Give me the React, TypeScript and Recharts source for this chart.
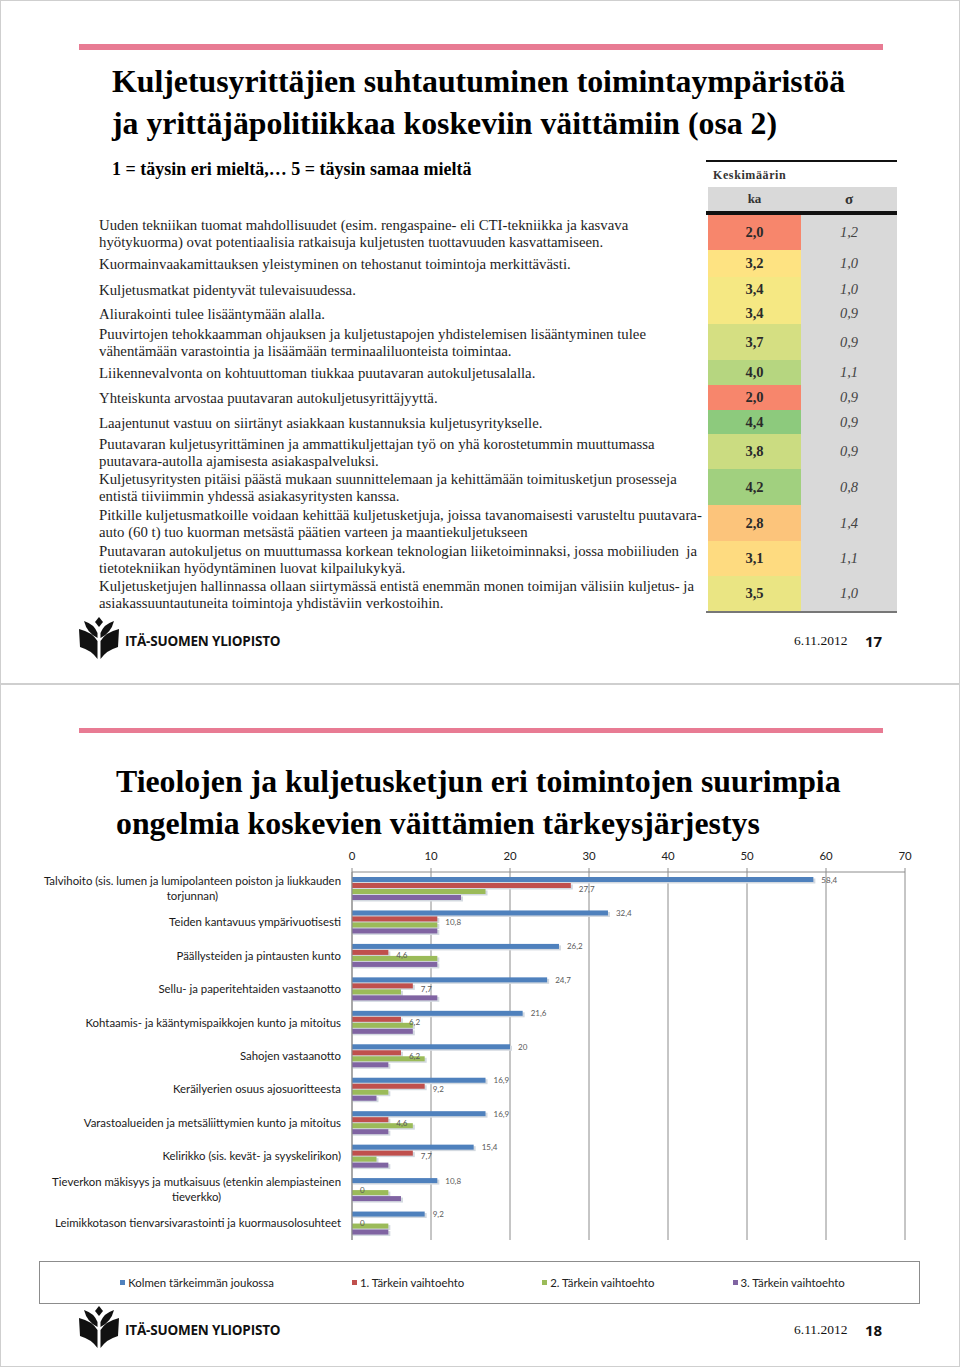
import React from 'react'
import { BarChart, Bar, XAxis, YAxis, CartesianGrid, LabelList } from 'recharts'

// slide 17: statements with mean (ka) and std (σ)
const statements = [
  'Uuden tekniikan tuomat mahdollisuudet (esim. rengaspaine- eli CTI-tekniikka ja kasvava\nhyötykuorma) ovat potentiaalisia ratkaisuja kuljetusten tuottavuuden kasvattamiseen.',
  'Kuormainvaakamittauksen yleistyminen on tehostanut toimintoja merkittävästi.',
  'Kuljetusmatkat pidentyvät tulevaisuudessa.',
  'Aliurakointi tulee lisääntymään alalla.',
  'Puuvirtojen tehokkaamman ohjauksen ja kuljetustapojen yhdistelemisen lisääntyminen tulee\nvähentämään varastointia ja lisäämään terminaaliluonteista toimintaa.',
  'Liikennevalvonta on kohtuuttoman tiukkaa puutavaran autokuljetusalalla.',
  'Yhteiskunta arvostaa puutavaran autokuljetusyrittäjyyttä.',
  'Laajentunut vastuu on siirtänyt asiakkaan kustannuksia kuljetusyritykselle.',
  'Puutavaran kuljetusyrittäminen ja ammattikuljettajan työ on yhä korostetummin muuttumassa\npuutavara-autolla ajamisesta asiakaspalveluksi.',
  'Kuljetusyritysten pitäisi päästä mukaan suunnittelemaan ja kehittämään toimitusketjun prosesseja\nentistä tiiviimmin yhdessä asiakasyritysten kanssa.',
  'Pitkille kuljetusmatkoille voidaan kehittää kuljetusketjuja, joissa tavanomaisesti varusteltu puutavara-\nauto (60 t) tuo kuorman metsästä päätien varteen ja maantiekuljetukseen',
  'Puutavaran autokuljetus on muuttumassa korkean teknologian liiketoiminnaksi, jossa mobiiliuden  ja\ntietotekniikan hyödyntäminen luovat kilpailukykyä.',
  'Kuljetusketjujen hallinnassa ollaan siirtymässä entistä enemmän monen toimijan välisiin kuljetus- ja\nasiakassuuntautuneita toimintoja yhdistäviin verkostoihin.',
]
const kaValues = [2.0, 3.2, 3.4, 3.4, 3.7, 4.0, 2.0, 4.4, 3.8, 4.2, 2.8, 3.1, 3.5]
const sigmaValues = [1.2, 1.0, 1.0, 0.9, 0.9, 1.1, 0.9, 0.9, 0.9, 0.8, 1.4, 1.1, 1.0]

// slide 18: problems ranking (%)
const problems = [
  'Talvihoito (sis. lumen ja lumipolanteen poiston ja liukkauden\ntorjunnan)',
  'Teiden kantavuus ympärivuotisesti',
  'Päällysteiden ja pintausten kunto',
  'Sellu- ja paperitehtaiden vastaanotto',
  'Kohtaamis- ja kääntymispaikkojen kunto ja mitoitus',
  'Sahojen vastaanotto',
  'Keräilyerien osuus ajosuoritteesta',
  'Varastoalueiden ja metsäliittymien kunto ja mitoitus',
  'Kelirikko (sis. kevät- ja syyskelirikon)',
  'Tieverkon mäkisyys ja mutkaisuus (etenkin alempiasteinen\ntieverkko)',
  'Leimikkotason tienvarsivarastointi ja kuormausolosuhteet',
]
const inTop3 = [58.4, 32.4, 26.2, 24.7, 21.6, 20, 16.9, 16.9, 15.4, 10.8, 9.2]
const firstChoice = [27.7, 10.8, 4.6, 7.7, 6.2, 6.2, 9.2, 4.6, 7.7, 0, 0]
const secondChoice = [16.9, 10.8, 10.8, 6.2, 7.7, 9.2, 4.6, 7.7, 3.1, 4.6, 4.6]
const thirdChoice = [13.8, 10.8, 10.8, 10.8, 7.7, 4.6, 3.1, 4.6, 4.6, 6.2, 4.6]
const xTicks = [0, 10, 20, 30, 40, 50, 60, 70]

const seriesNames = ['Kolmen tärkeimmän joukossa', '1. Tärkein vaihtoehto', '2. Tärkein vaihtoehto', '3. Tärkein vaihtoehto']
const seriesKeys = ['top3', 'first', 'second', 'third']
const seriesColors = ['#4f81bd', '#c0504d', '#9bbb59', '#8064a2']

const rowHeights = [35, 27, 25, 22, 36, 25, 25, 24, 35, 36, 36, 35, 35]

const PINK = '#e87b93'
const SERIF = '"Liberation Serif", "Times New Roman", serif'
const SANS = 'Lato, "Open Sans", sans-serif'
const LABEL_SIZE = 11.4
const LABEL_FONT = `${LABEL_SIZE}px Lato, "Open Sans", sans-serif`

const chartData = problems.map((name, i) => ({
  name,
  top3: inTop3[i],
  first: firstChoice[i],
  second: secondChoice[i],
  third: thirdChoice[i],
}))

const fmt = (v: number) => String(v).replace('.', ',')

// excel-like 3 colour scale (red - yellow - green)
function scaleColor(v: number) {
  const red = [247, 134, 108], yel = [255, 235, 132], grn = [99, 190, 123]
  const mid = 3.3
  let a = red, b = yel, t = 0
  if (v <= mid) t = (v - 2.0) / (mid - 2.0)
  else { a = yel; b = grn; t = (v - mid) / (4.8 - mid) }
  t = Math.max(0, Math.min(1, t))
  const c = a.map((x, i) => Math.round(x + (b[i] - x) * t))
  return `rgb(${c[0]},${c[1]},${c[2]})`
}

let canvasCtx: CanvasRenderingContext2D | null = null
function measure(text: string, font: string) {
  if (!canvasCtx) canvasCtx = document.createElement('canvas').getContext('2d')
  if (!canvasCtx) return text.length * 5.2
  canvasCtx.font = font
  return canvasCtx.measureText(text).width
}

function ProblemTick({ x, y, payload }: any) {
  const lines = String(payload.value).split('\n')
  const style = { fontSize: LABEL_SIZE, fontFamily: SANS, fill: '#1a1a1a' }
  if (lines.length === 1) {
    return <text x={x} y={y} dy={4} textAnchor="end" {...style}>{lines[0]}</text>
  }
  const w = measure(lines[0], LABEL_FONT)
  return (
    <g>
      <text x={x} y={y - 7.5} dy={4} textAnchor="end" {...style}>{lines[0]}</text>
      <text x={x - w / 2} y={y + 7.5} dy={4} textAnchor="middle" {...style}>{lines[1]}</text>
    </g>
  )
}

function ShadowBar(props: any) {
  const { x, y, width, height, fill } = props
  if (!width || width <= 0) return <g />
  return (
    <g>
      <rect x={x + 1} y={y + 1.5} width={width + 1} height={height} fill="#d3d9e0" />
      <rect x={x} y={y} width={width} height={height} fill={fill} />
    </g>
  )
}

const valueLabel = (dy: number) => (p: any) => (
  <text x={p.x + p.width + 8} y={p.y + p.height / 2 + dy} fontSize={8} fontFamily={SANS} fill="#595959">
    {fmt(p.value)}
  </text>
)

function Logo({ x, y }: { x: number; y: number }) {
  return (
    <svg style={{ position: 'absolute', left: x, top: y }} width={40} height={42} viewBox="0 0 40 42">
      <path d="M20 0 L24 5 L20 10 L16 5 Z" fill="#111" />
      <path d="M5 4 Q15 7 18.5 16 L18.5 21 Q8 16 5 4 Z" fill="#111" />
      <path d="M35 4 Q25 7 21.5 16 L21.5 21 Q32 16 35 4 Z" fill="#111" />
      <path d="M0 12 Q13 15 18.5 24 L18.5 42 Q12 33 1 30 Z" fill="#111" />
      <path d="M40 12 Q27 15 21.5 24 L21.5 42 Q28 33 39 30 Z" fill="#111" />
    </svg>
  )
}

function Footer({ top, page }: { top: number; page: string }) {
  return (
    <>
      <Logo x={78} y={top} />
      <div style={{ position: 'absolute', left: 124, top: top + 15, fontFamily: '"Open Sans", sans-serif', fontWeight: 700, fontSize: 13.5, letterSpacing: -0.2, color: '#111' }}>
        ITÄ-SUOMEN YLIOPISTO
      </div>
      <div style={{ position: 'absolute', left: 793, top: top + 16, fontFamily: SERIF, fontSize: 13.5, color: '#111' }}>6.11.2012</div>
      <div style={{ position: 'absolute', left: 864, top: top + 14, fontFamily: '"Open Sans", sans-serif', fontWeight: 700, fontSize: 15, color: '#111' }}>{page}</div>
    </>
  )
}

function TopSlide() {
  let acc = 214
  const rows = statements.map((s, i) => {
    const r = { s, ka: kaValues[i], sd: sigmaValues[i], top: acc, h: rowHeights[i] }
    acc += rowHeights[i]
    return r
  })
  return (
    <div style={{ position: 'absolute', left: 0, top: 0, width: 958, height: 682, border: '1px solid #cfcfcf', background: '#fff' }}>
      <div style={{ position: 'absolute', left: 78, top: 43, width: 804, height: 6, background: PINK }} />
      <div style={{ position: 'absolute', left: 111, top: 60, fontFamily: SERIF, fontWeight: 700, fontSize: 31.8, lineHeight: '42px', color: '#000', whiteSpace: 'nowrap' }}>
        Kuljetusyrittäjien suhtautuminen toimintaympäristöä<br />ja yrittäjäpolitiikkaa koskeviin väittämiin (osa 2)
      </div>
      <div style={{ position: 'absolute', left: 111, top: 158, fontFamily: SERIF, fontWeight: 700, fontSize: 18, color: '#000', whiteSpace: 'nowrap' }}>
        1 = täysin eri mieltä,… 5 = täysin samaa mieltä
      </div>

      <div style={{ position: 'absolute', left: 705, top: 159, width: 191, height: 2, background: '#111' }} />
      <div style={{ position: 'absolute', left: 712, top: 167, fontFamily: SERIF, fontWeight: 700, fontSize: 12, letterSpacing: 0.6, color: '#333' }}>Keskimäärin</div>
      <div style={{ position: 'absolute', left: 707, top: 186, width: 189, height: 24, background: '#d9d9d9' }} />
      <div style={{ position: 'absolute', left: 707, top: 186, width: 93, height: 24, lineHeight: '24px', textAlign: 'center', fontFamily: SERIF, fontWeight: 700, fontSize: 13, color: '#333' }}>ka</div>
      <div style={{ position: 'absolute', left: 800, top: 186, width: 96, height: 24, lineHeight: '24px', textAlign: 'center', fontFamily: SERIF, fontWeight: 700, fontSize: 15, color: '#333' }}>σ</div>
      <div style={{ position: 'absolute', left: 705, top: 210, width: 191, height: 4, background: '#111' }} />

      {rows.map((r, i) => (
        <React.Fragment key={i}>
          <div style={{ position: 'absolute', left: 98, top: r.top + 1, height: r.h, display: 'flex', alignItems: 'center', fontFamily: SERIF, fontSize: 14.8, lineHeight: '17px', color: '#1e1e1e', whiteSpace: 'pre' }}>
            {r.s}
          </div>
          <div style={{ position: 'absolute', left: 707, top: r.top, width: 93, height: r.h, background: scaleColor(r.ka), display: 'flex', alignItems: 'center', justifyContent: 'center', fontFamily: SERIF, fontWeight: 700, fontSize: 14.5, color: '#2a2a2a' }}>
            {r.ka.toFixed(1).replace('.', ',')}
          </div>
          <div style={{ position: 'absolute', left: 800, top: r.top, width: 96, height: r.h, background: '#d9d9d9', display: 'flex', alignItems: 'center', justifyContent: 'center', fontFamily: SERIF, fontStyle: 'italic', fontSize: 14.5, color: '#444' }}>
            {r.sd.toFixed(1).replace('.', ',')}
          </div>
        </React.Fragment>
      ))}
      <div style={{ position: 'absolute', left: 705, top: 610, width: 191, height: 2, background: '#777' }} />

      <Footer top={616} page="17" />
    </div>
  )
}

function BottomSlide() {
  return (
    <div style={{ position: 'absolute', left: 0, top: 684, width: 958, height: 681, border: '1px solid #cfcfcf', background: '#fff' }}>
      <div style={{ position: 'absolute', left: 78, top: 43, width: 804, height: 5, background: PINK }} />
      <div style={{ position: 'absolute', left: 115, top: 76, fontFamily: SERIF, fontWeight: 700, fontSize: 31.8, lineHeight: '42px', color: '#000', whiteSpace: 'nowrap' }}>
        Tieolojen ja kuljetusketjun eri toimintojen suurimpia<br />ongelmia koskevien väittämien tärkeysjärjestys
      </div>

      <div style={{ position: 'absolute', left: -1, top: 155 }}>
        <BarChart width={960} height={411} data={chartData} layout="vertical" margin={{ top: 12, right: 55, bottom: 11, left: 0 }} barSize={5} barGap={1}>
          <CartesianGrid horizontal={false} stroke="#8c8c8c" />
          <XAxis
            type="number"
            orientation="top"
            domain={[0, 70]}
            ticks={xTicks}
            interval={0}
            height={20}
            tickSize={4}
            tickMargin={8}
            tick={{ fontSize: 11.4, fill: '#222', fontFamily: SANS }}
            tickLine={{ stroke: '#8c8c8c' }}
            axisLine={{ stroke: '#8c8c8c' }}
          />
          <YAxis
            type="category"
            dataKey="name"
            width={352}
            interval={0}
            tickSize={6}
            tickMargin={5}
            tickLine={false}
            axisLine={{ stroke: '#8c8c8c' }}
            tick={<ProblemTick />}
          />
          {seriesKeys.map((k, i) => (
            <Bar key={k} dataKey={k} name={seriesNames[i]} fill={seriesColors[i]} isAnimationActive={false} shape={ShadowBar}>
              {i === 0 && <LabelList dataKey={k} content={valueLabel(3)} />}
              {i === 1 && <LabelList dataKey={k} content={valueLabel(6)} />}
            </Bar>
          ))}
        </BarChart>
      </div>

      <div style={{ position: 'absolute', left: 38, top: 576, width: 881, height: 43, boxSizing: 'border-box', border: '1px solid #8c8c8c', display: 'flex', alignItems: 'center', justifyContent: 'center', gap: 78, paddingLeft: 6 }}>
        {seriesNames.map((n, i) => (
          <div key={n} style={{ display: 'flex', alignItems: 'center', fontFamily: SANS, fontSize: LABEL_SIZE, color: '#222' }}>
            <span style={{ display: 'inline-block', width: 5, height: 5, background: seriesColors[i], marginRight: 3 }} />
            {n}
          </div>
        ))}
      </div>

      <Footer top={621} page="18" />
    </div>
  )
}

export default function App() {
  return (
    <div style={{ position: 'relative', width: 960, height: 1367, background: '#fff' }}>
      <style>{'body{margin:0}'}</style>
      <TopSlide />
      <BottomSlide />
    </div>
  )
}
